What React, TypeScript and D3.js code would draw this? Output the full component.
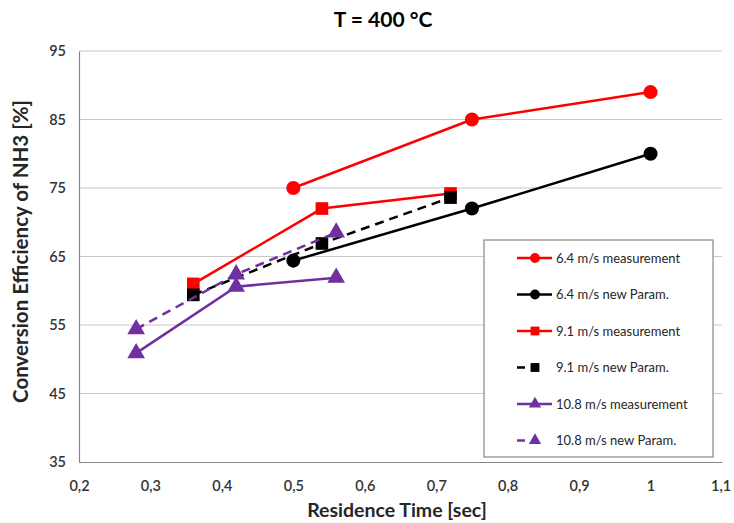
import * as d3 from 'd3';
import { useEffect, useRef } from 'react';

// residence time [sec] and conversion efficiency [%]
const time64 = [0.5, 0.75, 1.0];
const meas64 = [75, 85, 89];
const param64 = [64.4, 72, 80];

const time91 = [0.36, 0.54, 0.72];
const meas91 = [61, 72, 74.2];
const param91 = [59.4, 66.9, 73.6];

const time108 = [0.28, 0.42, 0.56];
const meas108 = [50.9, 60.6, 61.9];
const param108 = [54.4, 62.4, 68.5];

const xTicks = [0.2, 0.3, 0.4, 0.5, 0.6, 0.7, 0.8, 0.9, 1.0, 1.1];
const yTicks = [35, 45, 55, 65, 75, 85, 95];

const seriesNames = [
  '6.4 m/s measurement',
  '6.4 m/s new Param.',
  '9.1 m/s measurement',
  '9.1 m/s new Param.',
  '10.8 m/s measurement',
  '10.8 m/s new Param.',
];

const RED = '#ff0000';
const BLACK = '#000000';
const PURPLE = '#7030a0';
const FONT = 'Lato, "Open Sans", sans-serif';

const App = () => {
  const svgRef = useRef(null);

  useEffect(() => {
    const width = 734;
    const height = 523;
    const margin = { left: 79, right: 12, top: 51, bottom: 61 };

    const svg = d3.select(svgRef.current)
      .attr('width', width)
      .attr('height', height)
      .style('display', 'block')
      .style('position', 'absolute')
      .style('left', '0px')
      .style('top', '0px')
      .style('font-family', FONT);

    const g = svg.append('g');

    const x = d3.scaleLinear().domain([0.2, 1.1]).range([margin.left, width - margin.right]);
    const y = d3.scaleLinear().domain([35, 95]).range([height - margin.bottom, margin.top]);

    // gridlines
    g.selectAll('.grid')
      .data(yTicks.slice(1))
      .enter()
      .append('line')
      .attr('x1', x(0.2))
      .attr('x2', x(1.1))
      .attr('y1', (d) => y(d))
      .attr('y2', (d) => y(d))
      .attr('stroke', '#c8c8c8')
      .attr('stroke-width', 1.2);

    // axes
    const yAxis = g.append('g')
      .attr('transform', `translate(${x(0.2)},0)`)
      .call(d3.axisLeft(y).tickValues(yTicks).tickSize(0).tickPadding(13).tickFormat(d3.format('d')));
    yAxis.select('.domain').attr('stroke', '#868686').attr('stroke-width', 1.2);
    yAxis.selectAll('text').attr('font-size', 14.5).attr('font-weight', 600).attr('font-family', FONT).attr('fill', '#333');

    const xAxis = g.append('g')
      .attr('transform', `translate(0,${y(35)})`)
      .call(d3.axisBottom(x).tickValues(xTicks).tickSize(0).tickPadding(19)
        .tickFormat((d) => (d === 1 ? '1' : d3.format('.1f')(d).replace('.', ','))));
    xAxis.select('.domain').attr('stroke', '#868686').attr('stroke-width', 1.2);
    xAxis.selectAll('text').attr('font-size', 14.5).attr('font-weight', 600).attr('font-family', FONT).attr('fill', '#333');
    xAxis.selectAll('.tick:last-of-type text').attr('text-anchor', 'end').attr('dx', '0.6em');

    const series = [
      { t: time64, v: meas64, color: RED, marker: 'circle', dash: null },
      { t: time64, v: param64, color: BLACK, marker: 'circle', dash: null },
      { t: time91, v: meas91, color: RED, marker: 'square', dash: null },
      { t: time91, v: param91, color: BLACK, marker: 'square', dash: '9,6' },
      { t: time108, v: meas108, color: PURPLE, marker: 'triangle', dash: null },
      { t: time108, v: param108, color: PURPLE, marker: 'triangle', dash: '9,6' },
    ];

    const symbolFor = (m) => {
      if (m === 'circle') return d3.symbol().type(d3.symbolCircle).size(155)();
      if (m === 'square') return d3.symbol().type(d3.symbolSquare).size(160)();
      return d3.symbol().type(d3.symbolTriangle).size(135)();
    };

    const line = d3.line().x((d) => x(d[0])).y((d) => y(d[1]));

    series.forEach((s) => {
      const pts = s.t.map((t, i) => [t, s.v[i]]);
      g.append('path')
        .attr('d', line(pts))
        .attr('fill', 'none')
        .attr('stroke', s.color)
        .attr('stroke-width', 2.5)
        .attr('stroke-dasharray', s.dash);
      g.selectAll(null)
        .data(pts)
        .enter()
        .append('path')
        .attr('d', symbolFor(s.marker))
        .attr('transform', (d) => `translate(${x(d[0])},${y(d[1])})`)
        .attr('fill', s.color);
    });

    // legend
    const legend = g.append('g').attr('transform', 'translate(484,240)');
    legend.append('rect')
      .attr('width', 229)
      .attr('height', 217)
      .attr('fill', '#fff')
      .attr('stroke', '#868686')
      .attr('stroke-width', 1.2);

    series.forEach((s, i) => {
      const ly = 18 + i * 36.5;
      legend.append('line')
        .attr('x1', 33)
        .attr('x2', s.dash ? 41 : 68)
        .attr('y1', ly)
        .attr('y2', ly)
        .attr('stroke', s.color)
        .attr('stroke-width', 2.5);
      legend.append('path')
        .attr('d', symbolFor(s.marker))
        .attr('transform', `translate(51,${ly}) scale(0.7)`)
        .attr('fill', s.color);
      legend.append('text')
        .attr('x', 72)
        .attr('y', ly)
        .attr('dy', '0.35em')
        .attr('font-size', 13)
        .attr('fill', '#262626')
        .text(seriesNames[i]);
    });

    // titles
    svg.append('text')
      .attr('x', 383)
      .attr('y', 27)
      .attr('text-anchor', 'middle')
      .attr('font-size', 21)
      .attr('font-weight', 'bold')
      .text('T = 400 °C');

    svg.append('text')
      .attr('x', 397)
      .attr('y', 517)
      .attr('text-anchor', 'middle')
      .attr('font-size', 19.5)
      .attr('font-weight', 'bold')
      .attr('fill', '#262626')
      .text('Residence Time [sec]');

    svg.append('text')
      .attr('transform', `translate(28,${y(65) - 5}) rotate(-90)`)
      .attr('text-anchor', 'middle')
      .attr('font-size', 20.5)
      .attr('font-weight', 'bold')
      .attr('fill', '#262626')
      .text('Conversion Efficiency of NH3 [%]');

    return () => {
      svg.selectAll('*').remove();
    };
  }, []);

  return <svg ref={svgRef} />;
};

export default App;
